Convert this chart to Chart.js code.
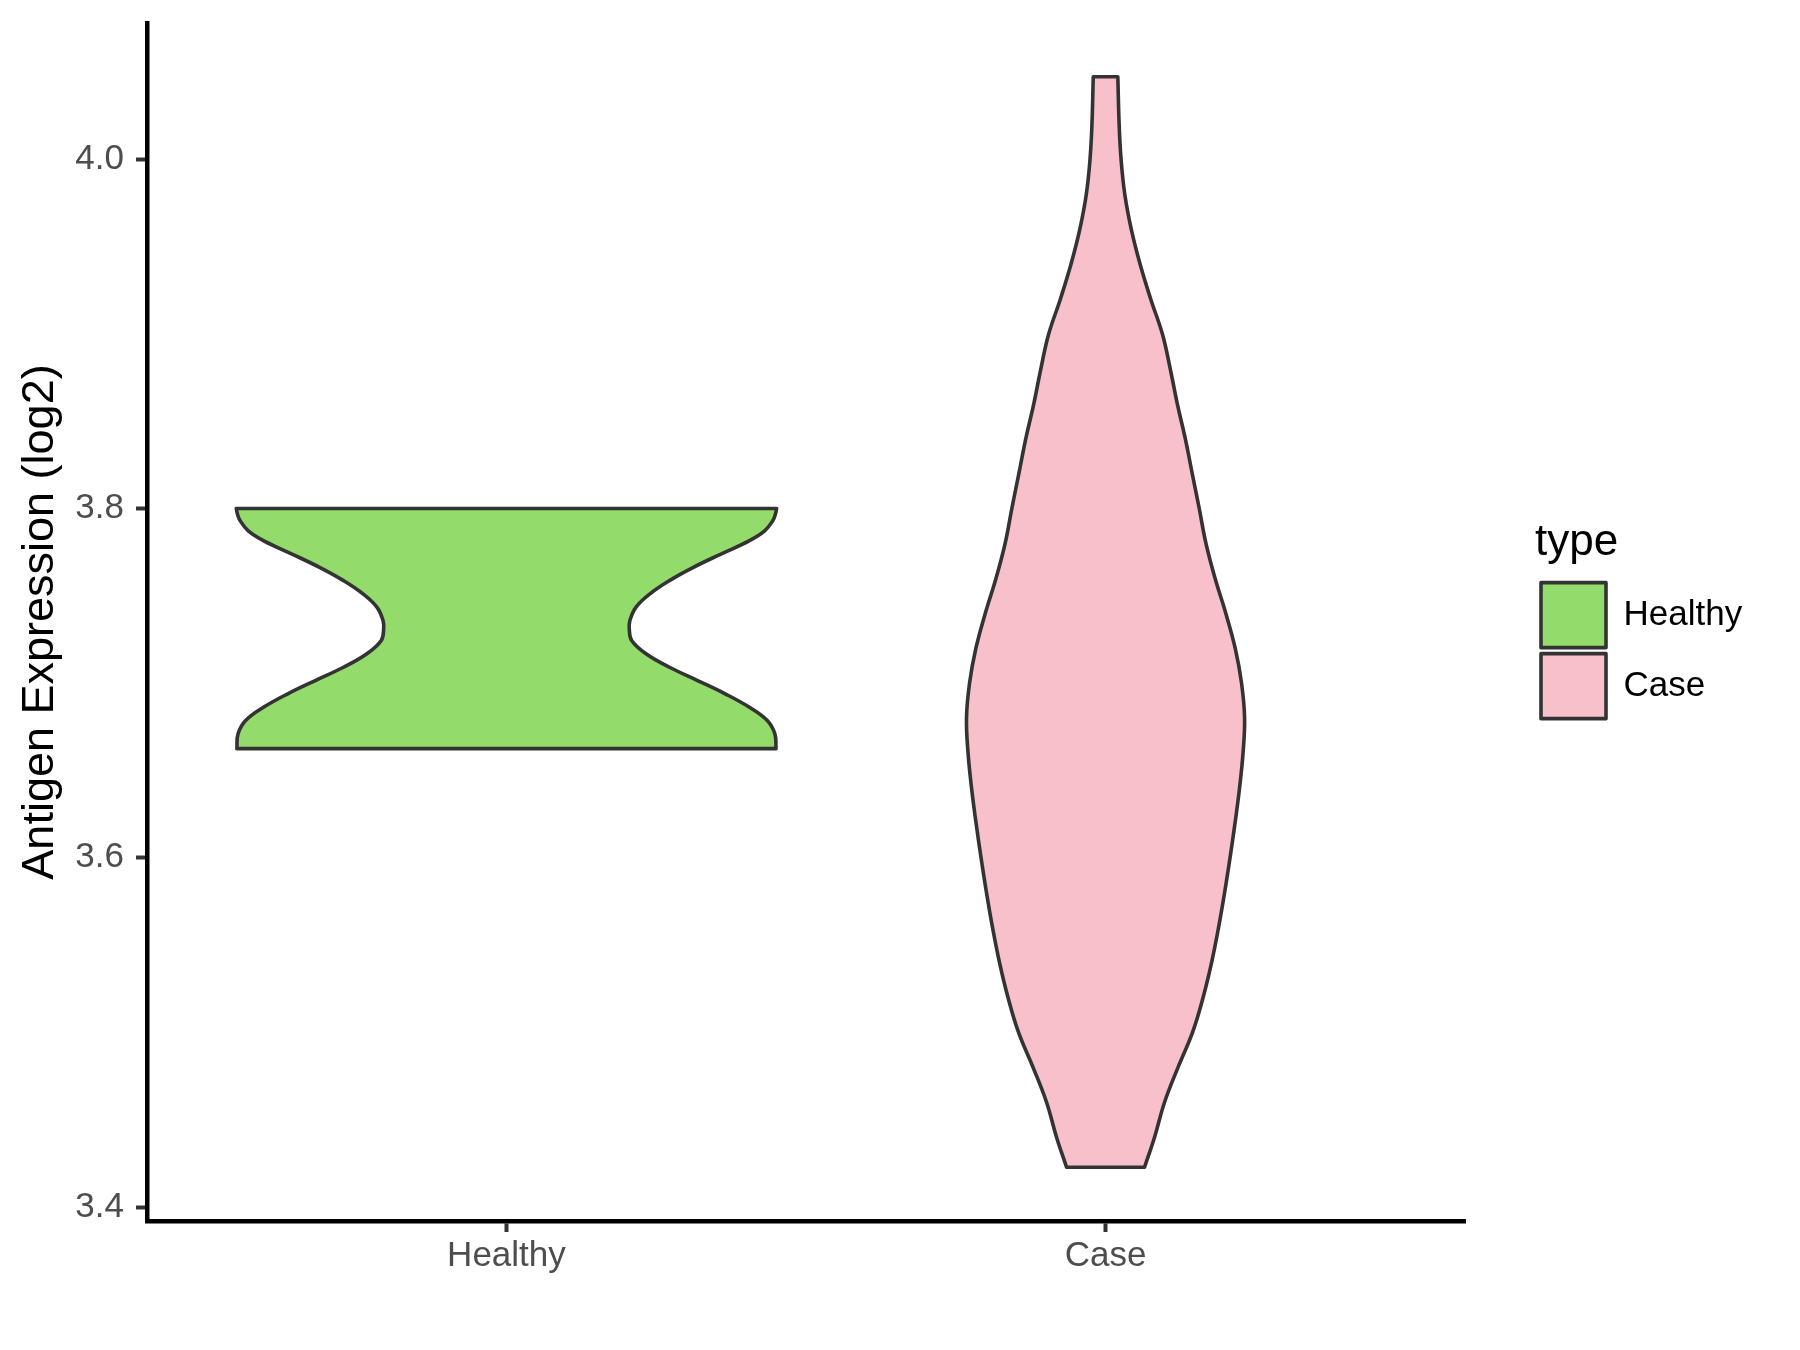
<!DOCTYPE html>
<html>
<head>
<meta charset="utf-8">
<script src="https://cdn.jsdelivr.net/npm/chart.js@4.4.1/dist/chart.umd.min.js"></script>
<style>
  html, body { margin: 0; padding: 0; background: #ffffff; }
  #wrap { width: 1800px; height: 1350px; position: relative; background: #ffffff; }
</style>
</head>
<body>
<div id="wrap"><canvas id="chart"></canvas></div>
<script>
// ---------- data ----------
const categories = ['Healthy', 'Case'];
const categoryPositions = [1, 2];
const yTickValues = [3.4, 3.6, 3.8, 4.0];

// Healthy violin: expression values (ascending) and violin half-widths (x units)
const healthyValues = [3.6625, 3.6710, 3.6787, 3.6863, 3.6939, 3.7015, 3.7091, 3.7168, 3.7244, 3.7310,
                       3.7358, 3.7434, 3.7510, 3.7587, 3.7663, 3.7739, 3.7815, 3.7872, 3.7930, 3.7968, 3.8000];
const healthyHalfWidths = [0.450, 0.448, 0.435, 0.405, 0.365, 0.319, 0.272, 0.233, 0.209, 0.205,
                           0.206, 0.216, 0.239, 0.272, 0.312, 0.358, 0.405, 0.431, 0.4445, 0.449, 0.451];

// Case violin
const caseValues = [3.4228, 3.44, 3.46, 3.48, 3.50, 3.52, 3.54, 3.56, 3.58, 3.60,
                    3.62, 3.64, 3.66, 3.68, 3.70, 3.72, 3.74, 3.76, 3.78, 3.80,
                    3.82, 3.84, 3.86, 3.88, 3.90, 3.92, 3.94, 3.96, 3.98, 4.00,
                    4.02, 4.0472];
const caseHalfWidths = [0.0651, 0.0818, 0.0985, 0.1210, 0.1452, 0.1628, 0.1770, 0.1886, 0.1987, 0.2078,
                        0.2162, 0.2237, 0.2295, 0.2321, 0.2270, 0.2164, 0.2007, 0.1828, 0.1676, 0.1564,
                        0.1447, 0.1331, 0.1197, 0.1080, 0.0948, 0.0753, 0.0576, 0.0429, 0.0321, 0.0259,
                        0.0227, 0.0205];

const fillColors = ['#93DB6B', '#F8C0CB'];
const outlineColor = '#333333';

// ---------- build closed violin outline from data ----------
function violinOutline(pos, values, halfWidths) {
  const n = values.length;
  const left = values.map((v, i) => ({ x: pos - halfWidths[i], y: v }));
  const right = values.map((v, i) => ({ x: pos + halfWidths[i], y: v })).reverse();
  const pts = [];
  left.forEach(p => pts.push(p));
  pts.push(left[n - 1]);           // sharp top-left corner
  pts.push(right[0]);
  pts.push(right[0]);              // sharp top-right corner
  right.slice(1).forEach(p => pts.push(p));
  pts.push(right[n - 1]);          // sharp bottom-right corner
  pts.push(left[0]);               // close
  return pts.map(p => ({ x: p.x, y: p.y }));
}

const seriesValues = [healthyValues, caseValues];
const seriesWidths = [healthyHalfWidths, caseHalfWidths];

const datasets = categories.map((name, i) => ({
  label: name,
  data: violinOutline(categoryPositions[i], seriesValues[i], seriesWidths[i]),
  showLine: true,
  fill: 'shape',
  backgroundColor: fillColors[i],
  borderColor: outlineColor,
  borderWidth: 3.6,
  borderJoinStyle: 'round',
  borderCapStyle: 'round',
  tension: 0.4,
  pointRadius: 0,
  pointHoverRadius: 0
}));

Chart.defaults.font.family = "'Liberation Sans', Arial, Helvetica, sans-serif";

const LEGEND_LEFT = 1535;
const legendShift = {
  id: 'legendShift',
  afterLayout(chart) {
    const lg = chart.legend;
    if (!lg) return;
    const dx = LEGEND_LEFT - lg.left;
    lg.left += dx;
    lg.right += dx;
  }
};

new Chart(document.getElementById('chart'), {
  type: 'scatter',
  data: { datasets },
  plugins: [legendShift],
  options: {
    responsive: true,
    maintainAspectRatio: false,
    animation: false,
    events: [],
    layout: { padding: { top: 23, left: 0, right: 0, bottom: 0 } },
    plugins: {
      tooltip: { enabled: false },
      legend: {
        position: 'right',
        align: 'center',
        fullSize: false,
        title: {
          display: true,
          text: 'type',
          position: 'start',
          color: '#000000',
          font: { size: 44 },
          padding: { top: 2, bottom: 2.5 }
        },
        labels: {
          boxWidth: 65,
          boxHeight: 65,
          padding: 6,
          color: '#000000',
          font: { size: 35 }
        }
      }
    },
    scales: {
      x: {
        type: 'linear',
        min: 0.4,
        max: 2.6,
        afterBuildTicks: (s) => { s.ticks = categoryPositions.map(v => ({ value: v })); },
        afterFit: (s) => { s.height = 129; s.paddingLeft = 0; s.paddingRight = 335; },
        ticks: {
          callback: (v) => categories[Math.round(v) - 1],
          color: '#4D4D4D',
          font: { size: 35 },
          padding: 3,
          maxRotation: 0,
          autoSkip: false
        },
        grid: {
          drawOnChartArea: false,
          drawTicks: true,
          tickLength: 11,
          tickWidth: 4,
          tickColor: '#333333'
        },
        border: { display: true, color: '#000000', width: 4.5 }
      },
      y: {
        type: 'linear',
        min: 3.392,
        max: 4.078,
        afterBuildTicks: (s) => { s.ticks = yTickValues.map(v => ({ value: v })); },
        afterFit: (s) => { s.width = 147; s.paddingTop = 0; s.paddingBottom = 0; },
        ticks: {
          callback: (v) => Number(v).toFixed(1),
          color: '#4D4D4D',
          font: { size: 35 },
          padding: 12
        },
        grid: {
          drawOnChartArea: false,
          drawTicks: true,
          tickLength: 11,
          tickWidth: 4,
          tickColor: '#333333'
        },
        border: { display: true, color: '#000000', width: 4.5 },
        title: {
          display: true,
          text: 'Antigen Expression (log2)',
          color: '#000000',
          font: { size: 45 },
          padding: { top: 14, bottom: 0 }
        }
      }
    }
  }
});
</script>
</body>
</html>
